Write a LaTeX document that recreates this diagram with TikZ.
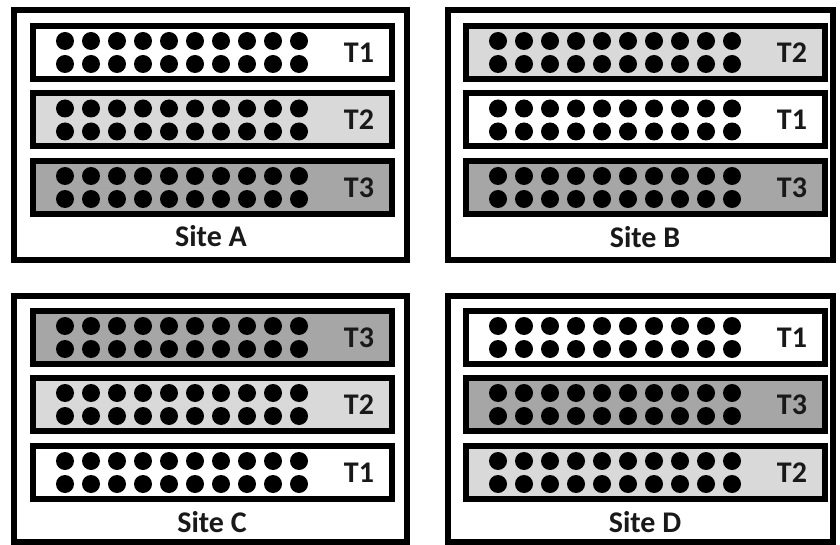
\documentclass[tikz,border=0pt]{standalone}
\usepackage{fontspec}
\setmainfont{Carlito}
\definecolor{tlight}{HTML}{D9D9D9}
\definecolor{tdark}{HTML}{A6A6A6}
\begin{document}
\begin{tikzpicture}[x=1pt,y=-1pt,
  sitebox/.style={draw=black, line width=6pt, fill=white, inner sep=0pt, rectangle},
  tierbox/.style={draw=black, line width=6pt, inner sep=0pt, rectangle, minimum width=359pt, minimum height=53pt},
  dotmark/.style={fill=black},
  lab/.style={font=\fontsize{30}{30}\selectfont\bfseries, inner sep=0pt, text=black!90}]
\fill[white] (0,0) rectangle (840,545);
\useasboundingbox (0,0) rectangle (840,545);
% site frames
\node[sitebox, minimum width=393pt, minimum height=250pt] (siteA) at (210.5,135) {};
\node[sitebox, minimum width=385pt, minimum height=250pt] (siteB) at (640.5,135) {};
\node[sitebox, minimum width=393pt, minimum height=246pt] (siteC) at (210.5,419) {};
\node[sitebox, minimum width=385pt, minimum height=246pt] (siteD) at (640.5,419) {};
% site labels
\node[lab] (labA) at (211,236) {Site A};
\node[lab] (labB) at (645,237) {Site B};
\node[lab] (labC) at (212,522) {Site C};
\node[lab] (labD) at (645,522) {Site D};
% tiers
\foreach \n/\cx/\cy/\f/\t in {
  A1/212.5/52.5/white/T1, A2/212.5/120/tlight/T2, A3/212.5/187.5/tdark/T3,
  B1/645.5/52.5/tlight/T2, B2/645.5/120/white/T1, B3/645.5/187.5/tdark/T3,
  C1/212.5/337.5/tdark/T3, C2/212.5/404.5/tlight/T2, C3/212.5/472.5/white/T1,
  D1/645.5/337.5/white/T1, D2/645.5/404.5/tdark/T3, D3/645.5/472.5/tlight/T2}{
  \node[tierbox, fill=\f] (\n) at (\cx,\cy) {};
  \foreach \i in {0,...,9}{
    \fill[dotmark] ({\cx-147.5+26*\i},{\cy-11.5}) circle[radius=9pt];
    \fill[dotmark] ({\cx-147.5+26*\i},{\cy+11.5}) circle[radius=9pt];
  }
  \node[lab] (\n-t) at ({\cx+146.5},{\cy}) {\t};
}
\end{tikzpicture}
\end{document}
